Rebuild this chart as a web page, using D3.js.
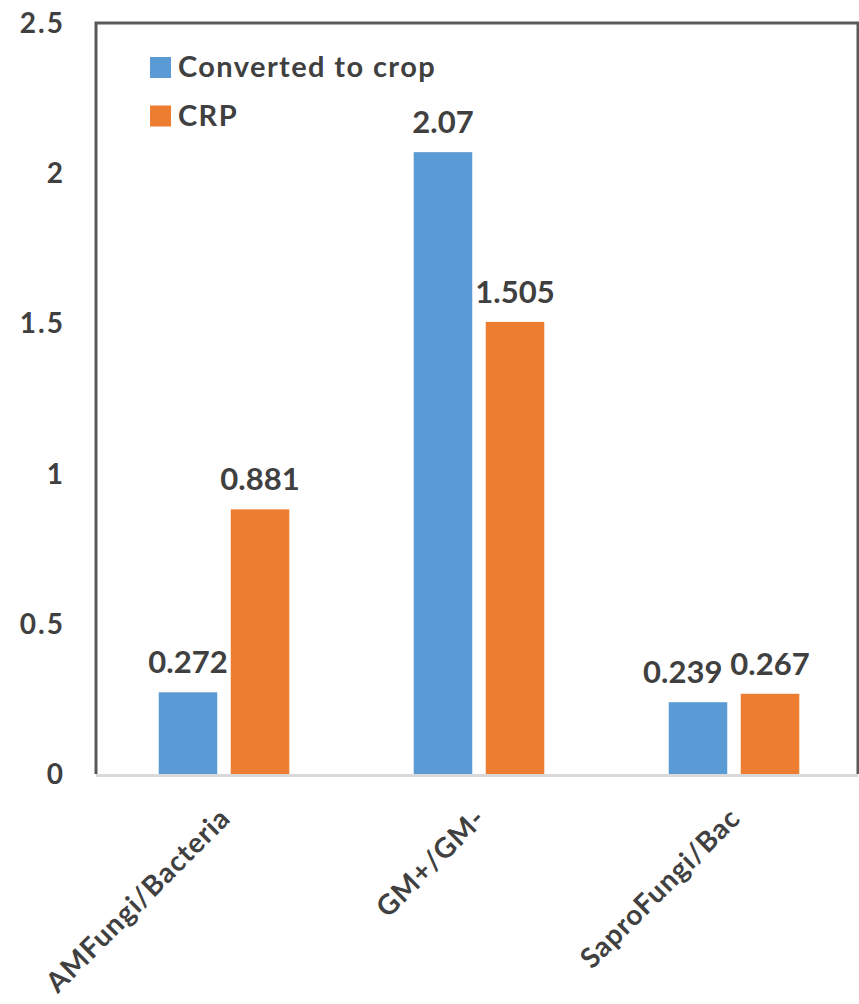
<!DOCTYPE html>
<html>
<head>
<meta charset="utf-8">
<script src="https://cdn.jsdelivr.net/npm/d3@7/dist/d3.min.js"></script>
<style>
  body { margin: 0; background: #fff; }
  svg text { font-family: Lato, "Open Sans", sans-serif; font-weight: bold; fill: #404040; }
</style>
</head>
<body>
<svg id="chart" width="859" height="1004"></svg>
<script>
var categories = ['AMFungi/Bacteria', 'GM+/GM-', 'SaproFungi/Bac'],
    seriesNames = ['Converted to crop', 'CRP'],
    convertedValues = [0.272, 2.07, 0.239],
    crpValues = [0.881, 1.505, 0.267],
    yTicks = [0, 0.5, 1, 1.5, 2, 2.5],
    colors = ['#5B9BD5', '#ED7D31'];

var svg = d3.select('#chart'),
    plotLeft = 96,
    plotRight = 858,
    plotTop = 23,
    plotBottom = 774;

var rows = categories.map(function(c, i) {
  return {cat: c, values: [convertedValues[i], crpValues[i]]};
});

var x0 = d3.scaleBand()
  .domain(categories)
  .range([96.5, 861.5])
  .paddingInner(0.488)
  .paddingOuter(0.244);

var x1 = d3.scaleBand()
  .domain(d3.range(seriesNames.length))
  .range([0, x0.bandwidth()])
  .paddingInner(0.1875);

var y = d3.scaleLinear()
  .domain([0, 2.5])
  .range([plotBottom, plotTop]);

// plot frame (left, top, right)
svg.append('path')
  .attr('d', 'M' + plotLeft + ',' + plotBottom + 'V' + plotTop + 'H' + plotRight + 'V' + plotBottom)
  .attr('fill', 'none')
  .attr('stroke', '#595959')
  .attr('stroke-width', 3);

// bars
var group = svg.selectAll('g.group')
  .data(rows)
  .enter()
  .append('g')
  .attr('class', 'group')
  .attr('transform', function(d) { return 'translate(' + x0(d.cat) + ',0)'; });

group.selectAll('rect')
  .data(function(d) { return d.values; })
  .enter()
  .append('rect')
  .attr('x', function(d, i) { return x1(i); })
  .attr('y', function(d) { return y(d); })
  .attr('width', x1.bandwidth())
  .attr('height', function(d) { return y(0) - y(d); })
  .attr('fill', function(d, i) { return colors[i]; });

// value labels
group.selectAll('text.value')
  .data(function(d) { return d.values; })
  .enter()
  .append('text')
  .attr('class', 'value')
  .attr('text-anchor', 'middle')
  .attr('x', function(d, i) { return x1(i) + x1.bandwidth() / 2; })
  .attr('y', function(d) { return y(d) - 19; })
  .style('font-size', '31px')
  .text(function(d) { return d; });

// nudge labels apart when they collide
group.each(function() {
  var t = d3.select(this).selectAll('text.value').nodes();
  if (t.length < 2) return;
  var a = t[0].getBBox(), b = t[1].getBBox();
  var vOverlap = a.y < b.y + b.height && b.y < a.y + a.height;
  var need = a.x + a.width + 8 - b.x;
  if (vOverlap && need > 0) {
    d3.select(t[0]).attr('x', +d3.select(t[0]).attr('x') - need);
  }
});

// x axis line
svg.append('line')
  .attr('x1', plotLeft)
  .attr('x2', plotRight)
  .attr('y1', plotBottom + 1.5)
  .attr('y2', plotBottom + 1.5)
  .attr('stroke', '#D9D9D9')
  .attr('stroke-width', 3);

// y tick labels
svg.selectAll('text.ytick')
  .data(yTicks)
  .enter()
  .append('text')
  .attr('class', 'ytick')
  .attr('x', 65)
  .attr('y', function(d) { return y(d); })
  .attr('dy', '0.36em')
  .attr('text-anchor', 'end')
  .style('font-size', '28px')
  .style('letter-spacing', '2px')
  .text(function(d) { return d; });

// category labels
svg.selectAll('text.cat')
  .data(categories)
  .enter()
  .append('text')
  .attr('class', 'cat')
  .attr('text-anchor', 'end')
  .attr('transform', function(d) {
    return 'translate(' + (x0(d) + x0.bandwidth() / 2 + 8) + ',' + 820 + ') rotate(-45)';
  })
  .style('font-size', '28px')
  .style('letter-spacing', '1px')
  .text(function(d) { return d; });

// legend
var legend = svg.selectAll('g.legend')
  .data(seriesNames)
  .enter()
  .append('g')
  .attr('class', 'legend')
  .attr('transform', function(d, i) { return 'translate(150,' + (57 + i * 48.5) + ')'; });

legend.append('rect')
  .attr('width', 21)
  .attr('height', 21)
  .attr('fill', function(d, i) { return colors[i]; });

legend.append('text')
  .attr('x', 28)
  .attr('y', 20)
  .style('font-size', '29px')
  .style('letter-spacing', '1.4px')
  .text(function(d) { return d; });
</script>
</body>
</html>
